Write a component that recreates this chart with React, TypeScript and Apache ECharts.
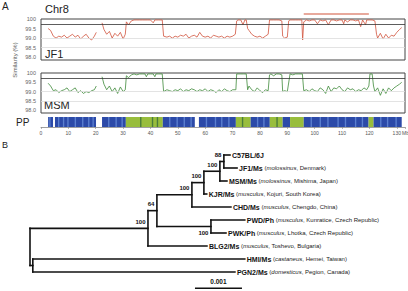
import React, { useEffect, useRef } from 'react';
import * as echarts from 'echarts';

// ---------- Panel A data ----------
const jf1Points: [number, number | null][] = [
  [2.6, 99.5], [3.5, 99.4], [4.5, 99.1], [5.5, 99.0], [6.5, 99.1], [7.5, 99.05], [8.5, 99.15], [9.5, 99.0],
  [10.5, 99.1], [11.5, 99.2], [12.5, 99.05], [13.5, 99.15], [14.5, 98.95], [15.5, 99.1], [16.5, 99.2],
  [17.5, 99.0], [18.5, 98.9], [19.5, 99.1], [20.2, 99.3], [21.2, null],
  [22.3, 99.8], [23, 99.45], [24, 99.2], [25, 99.35], [26, 99.0], [27, 99.25], [28, 99.1], [29, 99.3],
  [30, 98.95], [30.8, 99.2], [31.2, 99.85], [32, 99.7], [33, 99.9], [34, 99.95], [35, 99.95], [36, 99.95],
  [37, 99.95], [38, 99.95], [39, 99.95], [40, 99.95], [41, 99.8], [41.6, 99.95], [42, 99.95], [43, 99.95],
  [44.3, 99.95], [44.8, 99.1], [46, 99.05], [47, 99.1], [48, 99.0], [49, 99.1], [50, 99.05], [51, 99.15],
  [52, 99.1], [53, 99.2], [54, 99.0], [55, 99.1], [56, 99.15], [57, 99.05], [58, 99.3], [59, 99.1],
  [60, 99.05], [61, 99.1], [62, 99.0], [63, 99.15], [64, 99.1], [65, 99.05], [66, 99.1], [67, 99.0],
  [68, 99.1], [69, 99.05], [70, 99.1], [71, 99.2], [71.5, 99.9], [72, 99.95], [73, 99.95], [73.8, 99.7],
  [74.5, 99.95], [75, 99.95], [75.5, 99.5], [76, 99.4], [77, 99.2], [78, 99.1], [79, 99.05], [80, 99.1],
  [81, 99.0], [82, 99.1], [83, 99.2], [83.5, 99.95], [84, 99.95], [85, 99.95], [86, 99.95], [87, 99.95],
  [88, 99.9], [88.3, 99.1], [89, 99.0], [90, 99.05], [90.5, 99.9], [91, 99.95], [92, 99.95], [93, 99.95],
  [94, 99.95], [95.3, 99.95], [95.6, 98.9], [96, 99.85], [97, 99.95], [98, 99.9], [99, 99.95], [100, 99.95],
  [101, 99.75], [102, 99.95], [103, 99.9], [104, 99.95], [105, 99.7], [106, 99.95], [107, 99.95],
  [108, 99.9], [109, 99.95], [110, 99.95], [110.6, 99.75], [111, 99.95], [112, 99.85], [113, 99.95],
  [114, 99.95], [115, 99.9], [116, 99.95], [116.8, 99.6], [117.5, 99.95], [118.6, 99.7], [119, 99.95],
  [120, 99.95], [121, 99.95], [122, 99.9], [122.6, 99.2], [123, 99.0], [124, 99.25], [125, 98.95],
  [126, 99.2], [127, 99.0], [128, 99.15], [129, 99.1], [130, 99.3], [131, 99.45], [131.8, 99.55],
];

const msmPoints: [number, number | null][] = [
  [2.6, 99.45], [3.5, 99.3], [4.5, 99.05], [5.5, 99.1], [6.5, 98.95], [7.5, 99.05], [8.5, 99.1], [9.5, 99.2],
  [10.5, 99.0], [11.5, 99.1], [12.5, 99.2], [13.5, 98.95], [14.5, 99.05], [15.5, 98.9], [16.5, 99.0],
  [17.5, 98.95], [18.5, 99.05], [19.5, 99.1], [20.2, 99.3], [21.2, null],
  [22.3, 99.8], [23, 99.4], [24, 99.1], [25, 99.3], [26, 99.0], [27, 99.2], [28, 98.9], [29, 99.25],
  [30, 99.0], [30.8, 99.1], [31.2, 99.85], [32, 99.75], [33, 99.9], [34, 99.95], [35, 99.9], [36, 99.95],
  [37, 99.95], [38, 99.95], [38.5, 99.8], [39, 99.95], [40, 99.95], [41, 99.95], [41.6, 99.8], [42, 99.95],
  [43, 99.95], [44.3, 99.95], [44.8, 99.0], [46, 99.1], [47, 99.05], [48, 99.0], [49, 99.1], [50, 99.05],
  [51, 99.15], [52, 99.0], [53, 99.1], [54, 99.05], [55, 99.15], [56, 99.1], [57, 99.0], [58, 99.1],
  [59, 99.05], [60, 99.15], [61, 99.0], [62, 99.1], [63, 99.05], [64, 98.95], [65, 99.1], [66, 99.0],
  [67, 99.15], [68, 99.05], [69, 99.0], [70, 99.1], [71.2, 99.1], [71.5, 99.95], [72, 99.95], [73, 99.95],
  [74, 99.95], [75, 99.95], [75.5, 99.1], [76, 99.3], [77, 99.1], [78, 99.0], [79, 99.2], [80, 99.05],
  [81, 98.95], [82, 99.1], [83, 99.05], [83.5, 99.9], [84, 99.95], [85, 99.85], [86, 99.95], [87, 99.95],
  [88, 99.9], [88.3, 99.0], [89, 99.05], [90, 99.0], [91, 99.95], [92, 99.9], [93, 99.95], [94, 99.95],
  [95.5, 99.95], [96, 99.05], [97, 99.1], [98, 99.0], [99, 99.15], [100, 99.05], [101, 99.0], [102, 99.2],
  [103, 99.1], [104, 98.9], [105, 99.3], [106, 99.0], [107, 99.2], [108, 99.15], [109, 99.3], [110, 99.1],
  [111, 99.0], [112, 99.2], [113, 99.1], [114, 99.15], [115, 99.0], [116, 99.1], [117, 99.05], [118, 99.2],
  [119, 99.1], [119.8, 99.3], [120.2, 99.95], [121, 99.95], [121.5, 99.3], [122, 99.0], [123, 99.2],
  [124, 98.8], [125, 99.15], [126, 98.9], [127, 99.2], [128, 99.05], [129, 99.2], [130, 99.3], [131, 99.4],
  [131.8, 99.5],
];

const yTickValues = [98, 98.5, 99, 99.5, 100];
const thresholdValue = 99.7;
const guideValues = [99.0, 98.5];
const markerRange = [96, 119.8];
const chromosomeMax = 133;

// PP track: 0 = blue, 1 = green
const ppStart = [2.6, 5.1, 22.3, 31.0, 44.5, 57.7, 71.2, 76.6, 83.6, 88.3, 91.0, 96.0, 119.7, 121.5];
const ppEnd = [4.4, 20.1, 31.0, 44.5, 56.2, 71.2, 76.6, 83.6, 88.3, 91.0, 96.0, 119.7, 121.5, 131.8];
const ppType = [0, 0, 0, 1, 0, 0, 1, 0, 1, 0, 1, 0, 1, 0];
const ppLightStreaks = [3.0, 6.2, 8.0, 9.6, 12.3, 15.0, 17.2, 18.8, 24.5, 27.2, 29.4, 46.8, 49.5, 52.1, 54.6,
  60.2, 63.5, 65.8, 68.4, 78.9, 81.2, 98.5, 101.8, 104.6, 108.3, 111.0, 114.7, 117.2, 123.9, 126.4, 129.5];
const ppDarkStreaks = [36.2, 40.5, 42.3, 73.4, 86.0];

// ---------- Panel B data ----------
const leafNames = ['C57BL/6J', 'JF1/Ms', 'MSM/Ms', 'KJR/Ms', 'CHD/Ms', 'PWD/Ph', 'PWK/Ph', 'BLG2/Ms', 'HMI/Ms', 'PGN2/Ms'];
const leafSubspecies = ['', 'molossinus', 'molossinus', 'musculus', 'musculus', 'musculus', 'musculus', 'musculus', 'castaneus', 'domesticus'];
const leafOrigins = ['', 'Denmark', 'Mishima, Japan', 'Kojuri, South Korea', 'Chengdo, China', 'Kunratice, Czech Republic',
  'Lhotka, Czech Republic', 'Toshevo, Bulgaria', 'Hemei, Taiwan', 'Pegion, Canada'];
const leafParents = ['n88', 'n88', 'nA', 'nB', 'nC', 'nPW', 'nPW', 'nD', 'nHP', 'nHP'];
const leafBranch = [0.00013, 0.00028, 0.00015, 0.00006, 0.00083, 0.00072, 0.00032, 0.001255, 0.00451, 0.0043];

const cladeIds = ['root', 'nHP', 'nD', 'n64', 'nPW', 'nC', 'nB', 'nA', 'n88'];
const cladeParents = ['', 'root', 'root', 'nD', 'n64', 'n64', 'nC', 'nB', 'nA'];
const cladeBranch = [0, 0.00006, 0.00251, 0.00019, 0.00115, 0.000745, 0.000255, 0.00034, 0.000085];
const cladeSupport = [0, 0, 100, 64, 100, 100, 100, 100, 88];
const supportBelow = ['nPW'];

const scaleBarLength = 0.001;
const scaleBarLabel = '0.001';

const FONT = 'Liberation Sans, Arial, Helvetica, sans-serif';

type TNode = { id: string; parent: string; len: number; leaf: number; support: number; x: number; y: number };

function buildTree(): TNode[] {
  const nodes: TNode[] = [];
  cladeIds.forEach((id, i) => nodes.push({ id, parent: cladeParents[i], len: cladeBranch[i], leaf: -1, support: cladeSupport[i], x: 0, y: 0 }));
  leafNames.forEach((id, i) => nodes.push({ id, parent: leafParents[i], len: leafBranch[i], leaf: i, support: 0, x: 0, y: 0 }));
  const byId: Record<string, TNode> = {};
  nodes.forEach((n) => (byId[n.id] = n));
  const getX = (n: TNode): number => (n.parent ? getX(byId[n.parent]) + n.len : 0);
  const getY = (n: TNode): number => {
    if (n.leaf >= 0) return n.leaf;
    const ys = nodes.filter((c) => c.parent === n.id).map(getY);
    return (Math.min(...ys) + Math.max(...ys)) / 2;
  };
  nodes.forEach((n) => {
    n.x = getX(n);
    n.y = getY(n);
  });
  return nodes;
}

export default function App() {
  const ref = useRef<HTMLDivElement>(null);
  useEffect(() => {
    const chart = echarts.init(ref.current!, null, { renderer: 'svg' });
    const nodes = buildTree();
    const byId: Record<string, TNode> = {};
    nodes.forEach((n) => (byId[n.id] = n));
    const leafX = Math.max(...nodes.map((n) => n.x));
    const scaleStart = leafX - 0.00106;
    const scaleY = leafNames.length + 0.25;

    const ppData: number[][] = [];
    ppStart.forEach((s, i) => ppData.push([s, ppEnd[i], ppType[i]]));
    ppLightStreaks.forEach((s) => ppData.push([s, s + 0.5, 2]));
    ppDarkStreaks.forEach((s) => ppData.push([s, s + 0.5, 3]));
    const ppColors = ['#2c4aa8', '#98bd3c', '#5b7fcf', '#4a7c3a'];

    const toSeries = (pts: [number, number | null][]) => pts.map(([x, v]) => [x, v === null ? '-' : v]);

    const markLines = {
      silent: true,
      symbol: 'none',
      label: { show: false },
      data: [
        { yAxis: thresholdValue, lineStyle: { color: '#333', width: 0.8, type: 'solid' } },
        ...guideValues.map((g) => ({ yAxis: g, lineStyle: { color: '#dcdcdc', width: 0.8, type: 'solid' } })),
      ],
    };

    const simYAxis = (gridIndex: number) => ({
      type: 'value',
      gridIndex,
      min: 97.85,
      max: 100,
      axisLine: { show: false },
      axisTick: { show: false },
      splitLine: { show: false },
      axisLabel: {
        customValues: yTickValues,
        fontSize: 5.5,
        color: '#666',
        margin: 5,
        fontFamily: FONT,
        formatter: (v: number) => (v === 100 ? '100' : v.toFixed(1)),
      },
    });
    const hiddenX = (gridIndex: number) => ({ type: 'value', gridIndex, min: 0, max: chromosomeMax, show: false });

    const treeRender = (params: any, api: any) => {
      const i = params.dataIndex;
      const stroke = '#111';
      const lw = 1.6;
      if (i >= nodes.length) {
        const a = api.coord([scaleStart, scaleY]);
        const b = api.coord([scaleStart + scaleBarLength, scaleY]);
        return {
          type: 'group',
          children: [
            { type: 'line', shape: { x1: a[0], y1: a[1], x2: b[0], y2: b[1] }, style: { stroke, lineWidth: lw } },
            {
              type: 'text', x: (a[0] + b[0]) / 2, y: a[1] - 6.5,
              style: { text: scaleBarLabel, fill: '#111', fontSize: 6.5, fontWeight: 'bold', fontFamily: FONT, align: 'center', verticalAlign: 'middle' },
            },
          ],
        };
      }
      const n = nodes[i];
      const p = api.coord([n.x, n.y]);
      const children: any[] = [];
      if (n.parent) {
        const pp = api.coord([byId[n.parent].x, n.y]);
        children.push({ type: 'line', shape: { x1: pp[0], y1: p[1], x2: p[0], y2: p[1] }, style: { stroke, lineWidth: lw, lineCap: 'square' } });
      }
      if (n.leaf < 0) {
        const ys = nodes.filter((c) => c.parent === n.id).map((c) => c.y);
        const t = api.coord([n.x, Math.min(...ys)]);
        const b = api.coord([n.x, Math.max(...ys)]);
        children.push({ type: 'line', shape: { x1: t[0], y1: t[1], x2: b[0], y2: b[1] }, style: { stroke, lineWidth: lw, lineCap: 'square' } });
        if (n.support) {
          const below = supportBelow.indexOf(n.id) >= 0;
          children.push({
            type: 'text', x: p[0] - 2.5, y: p[1] + (below ? 6 : -6.5),
            style: { text: String(n.support), fill: '#111', fontSize: 6, fontWeight: 'bold', fontFamily: FONT, align: 'right', verticalAlign: 'middle' },
          });
        }
      } else {
        const k = n.leaf;
        const sub = leafSubspecies[k];
        const text = sub
          ? `{b|${leafNames[k]}} {n|(}{i|${sub}}{n|, ${leafOrigins[k]})}`
          : `{b|${leafNames[k]}}`;
        children.push({
          type: 'text', x: p[0] + 2, y: p[1],
          style: {
            text, fill: '#111', fontSize: 6, fontFamily: FONT, align: 'left', verticalAlign: 'middle',
            rich: {
              b: { fontSize: 7, fontWeight: 'bold', fontFamily: FONT, fill: '#111' },
              n: { fontSize: 6, fontFamily: FONT, fill: '#222' },
              i: { fontSize: 6, fontStyle: 'italic', fontFamily: FONT, fill: '#222' },
            },
          },
        });
      }
      return { type: 'group', children };
    };

    const option: any = {
      animation: false,
      backgroundColor: '#fff',
      grid: [
        { left: 41, top: 13, width: 364, height: 2, show: false },
        { left: 41, top: 19, width: 364, height: 41, show: true, borderColor: '#444', borderWidth: 1 },
        { left: 41, top: 73, width: 364, height: 40, show: true, borderColor: '#444', borderWidth: 1 },
        { left: 41, top: 117, width: 364, height: 10, show: false },
        { left: 30, top: 155, width: 235, height: 117, show: false },
      ],
      xAxis: [
        hiddenX(0),
        hiddenX(1),
        hiddenX(2),
        {
          type: 'value', gridIndex: 3, min: 0, max: chromosomeMax, interval: 10,
          axisLine: { show: true, lineStyle: { color: '#888', width: 0.8 } },
          axisTick: { show: true, length: 2, lineStyle: { color: '#888', width: 0.6 } },
          splitLine: { show: false },
          axisLabel: {
            fontSize: 5, color: '#555', margin: 3, fontFamily: FONT,
            formatter: (v: number) => (v > 130 ? '' : String(v)),
          },
        },
        { type: 'value', gridIndex: 4, min: 0, max: 0.005, show: false },
      ],
      yAxis: [
        { type: 'value', gridIndex: 0, min: 0, max: 1, show: false },
        simYAxis(1),
        simYAxis(2),
        { type: 'value', gridIndex: 3, min: 0, max: 1, show: false },
        { type: 'value', gridIndex: 4, min: 0, max: leafNames.length - 1, inverse: true, show: false },
      ],
      series: [
        {
          type: 'line', xAxisIndex: 0, yAxisIndex: 0, silent: true, showSymbol: false,
          data: [[markerRange[0], 0.5], [markerRange[1], 0.5]],
          lineStyle: { color: '#d2553a', width: 1.2 },
        },
        {
          type: 'line', xAxisIndex: 1, yAxisIndex: 1, silent: true, showSymbol: false, connectNulls: false,
          data: toSeries(jf1Points), lineStyle: { color: '#d0533c', width: 0.8 }, markLine: markLines, z: 3,
        },
        {
          type: 'line', xAxisIndex: 2, yAxisIndex: 2, silent: true, showSymbol: false, connectNulls: false,
          data: toSeries(msmPoints), lineStyle: { color: '#3f8a3a', width: 0.8 }, markLine: markLines, z: 3,
        },
        {
          type: 'custom', xAxisIndex: 3, yAxisIndex: 3, silent: true, data: ppData,
          renderItem: (params: any, api: any) => {
            const a = api.coord([api.value(0), 1]);
            const b = api.coord([api.value(1), 0]);
            return {
              type: 'rect',
              shape: { x: a[0], y: a[1], width: b[0] - a[0], height: b[1] - a[1] },
              style: { fill: ppColors[api.value(2)] },
            };
          },
        },
        {
          type: 'custom', xAxisIndex: 4, yAxisIndex: 4, silent: true, clip: false,
          data: [...nodes.map((n) => [n.x, n.y]), [scaleStart, scaleY]],
          renderItem: treeRender,
        },
      ],
      graphic: [
        { type: 'text', x: 2, y: 6, style: { text: 'A', fontSize: 10, fill: '#222', fontFamily: FONT, verticalAlign: 'middle' } },
        { type: 'text', x: 45, y: 9, style: { text: 'Chr8', fontSize: 11, fill: '#222', fontFamily: FONT, verticalAlign: 'middle' } },
        { type: 'text', x: 45, y: 54, style: { text: 'JF1', fontSize: 11, fill: '#222', fontFamily: FONT, verticalAlign: 'middle' } },
        { type: 'text', x: 44, y: 105, style: { text: 'MSM', fontSize: 11, fill: '#222', fontFamily: FONT, verticalAlign: 'middle' } },
        { type: 'text', x: 16, y: 122.5, style: { text: 'PP', fontSize: 10, fill: '#222', fontFamily: FONT, verticalAlign: 'middle' } },
        { type: 'text', x: 402, y: 133, style: { text: 'Mb', fontSize: 5, fill: '#555', fontFamily: FONT, verticalAlign: 'middle' } },
        {
          type: 'text', x: 15, y: 60, rotation: Math.PI / 2,
          style: { text: 'Similarity (%)', fontSize: 6, fill: '#555', fontFamily: FONT, align: 'center', verticalAlign: 'middle' },
        },
        { type: 'text', x: 2, y: 145, style: { text: 'B', fontSize: 9, fill: '#222', fontFamily: FONT, verticalAlign: 'middle' } },
      ],
    };
    chart.setOption(option);
    return () => chart.dispose();
  }, []);
  return <div ref={ref} style={{ position: 'fixed', left: 0, top: 0, width: 408, height: 291 }} />;
}
